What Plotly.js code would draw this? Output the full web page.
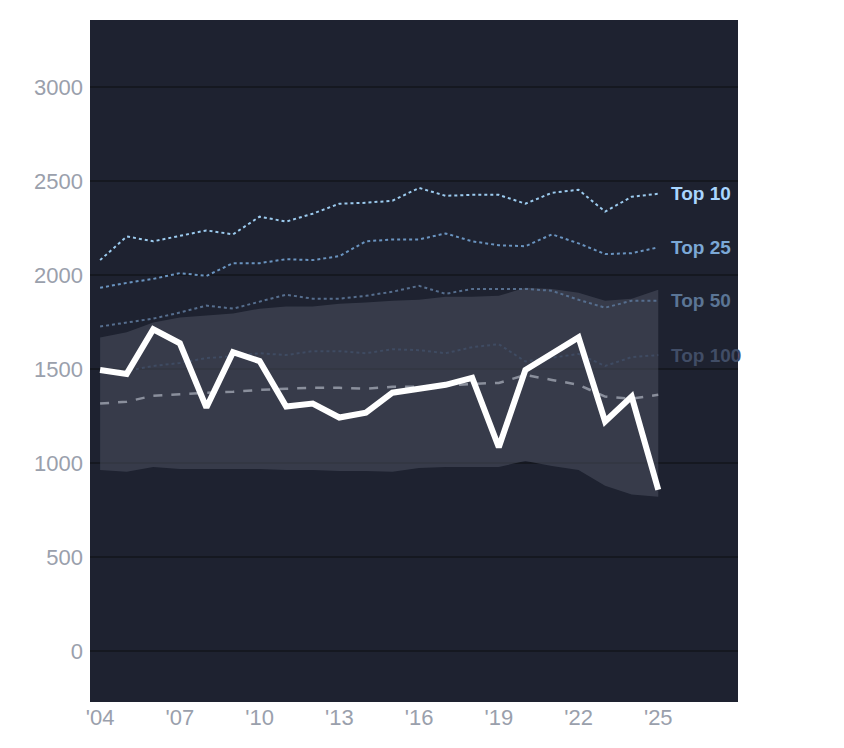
<!DOCTYPE html>
<html><head><meta charset="utf-8">
<script src="https://cdn.plot.ly/plotly-3.0.1.min.js"></script>
<style>body{margin:0;background:#fff}</style></head>
<body><div id="chart" style="width:844px;height:748px"></div>
<script>
const years=[2004,2005,2006,2007,2008,2009,2010,2011,2012,2013,2014,2015,2016,2017,2018,2019,2020,2021,2022,2023,2024,2025];
const player=[1495,1474,1711,1637,1295,1589,1542,1300,1316,1242,1268,1374,1395,1416,1453,1084,1495,1584,1668,1221,1353,858];
const top10=[2079,2205,2179,2210,2237,2216,2310,2284,2326,2379,2384,2395,2463,2421,2426,2426,2379,2437,2453,2337,2416,2432];
const top25=[1932,1958,1979,2010,1995,2063,2063,2084,2079,2100,2179,2189,2189,2221,2179,2158,2153,2216,2168,2111,2116,2147];
const top50=[1726,1747,1768,1800,1837,1821,1858,1895,1874,1874,1889,1911,1942,1900,1926,1926,1926,1916,1868,1826,1863,1863];
const top100=[1495,1490,1516,1532,1558,1568,1584,1574,1595,1595,1584,1605,1600,1584,1616,1632,1540,1560,1580,1516,1563,1574];
const median=[1316,1326,1358,1368,1374,1379,1389,1395,1400,1400,1395,1405,1405,1411,1421,1426,1468,1442,1416,1353,1342,1363];
const bandHigh=[1668,1695,1747,1774,1784,1795,1821,1832,1832,1847,1853,1863,1868,1884,1884,1889,1932,1926,1905,1863,1874,1921];
const bandLow=[963,953,979,968,968,968,968,963,963,958,958,953,974,979,979,979,1011,984,963,879,832,821];
const tickYears=[2004,2007,2010,2013,2016,2019,2022,2025];
const tickText=["'04","'07","'10","'13","'16","'19","'22","'25"];
const labels=["Top 10","Top 25","Top 50","Top 100"];
const labelColors=["#a9d6ff","#7ba8d6","#5b7595","#414d66"];
const tiers=[top10,top25,top50,top100];
const lineColors=["#9ccbef","#6a94c0","#566e8e","#3f4b62"];

const traces=[
 {x:years,y:bandLow,mode:'lines',line:{width:0},hoverinfo:'skip',showlegend:false},
 {x:years,y:bandHigh,mode:'lines',line:{width:0},fill:'tonexty',fillcolor:'rgba(72,76,92,0.6)',hoverinfo:'skip',showlegend:false}
];
tiers.forEach((t,i)=>traces.push({x:years,y:t,mode:'lines',line:{color:lineColors[i],width:2,dash:'dot'},showlegend:false}));
traces.push({x:years,y:median,mode:'lines',line:{color:'#8a8f9c',width:2.5,dash:'dash'},showlegend:false});
traces.push({x:years,y:player,mode:'lines',line:{color:'#ffffff',width:6},showlegend:false});

const annotations=tiers.map((t,i)=>({x:2025.4,y:t[t.length-1],xanchor:'left',yanchor:'middle',showarrow:false,
 text:'<b>'+labels[i]+'</b>',font:{family:'Arial, Liberation Sans',size:19,color:labelColors[i]}}));

Plotly.newPlot('chart',traces,{
 width:844,height:748,margin:{l:90,r:106,t:20,b:46},
 paper_bgcolor:'#ffffff',plot_bgcolor:'#1e2230',
 font:{family:'Arial, Liberation Sans',color:'#9aa0ac'},
 xaxis:{range:[2003.62,2028.0],tickvals:tickYears,ticktext:tickText,showgrid:false,zeroline:false,tickfont:{size:22,color:'#9aa0ac'}},
 yaxis:{range:[-271,3356],tickvals:[0,500,1000,1500,2000,2500,3000],gridcolor:'#151820',gridwidth:2,zeroline:false,tickfont:{size:22,color:'#9aa0ac'},ticklabelstandoff:6},
 annotations:annotations
},{displayModeBar:false,staticPlot:true});
</script></body></html>
